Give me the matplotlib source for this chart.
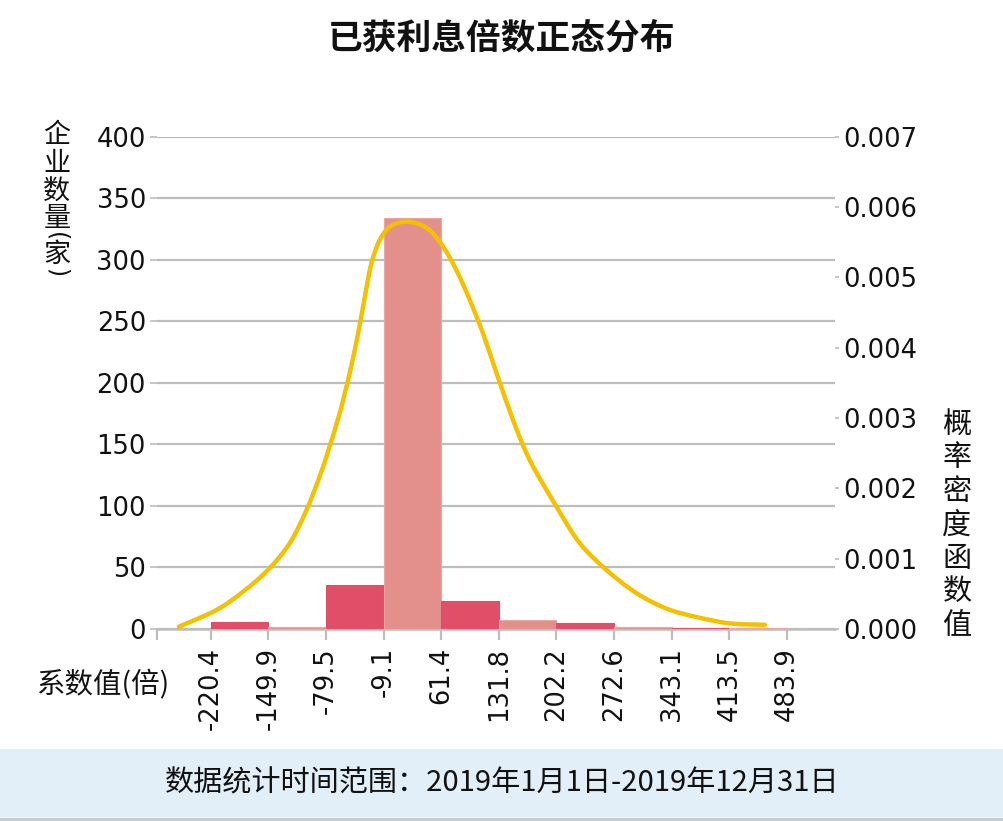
import matplotlib
matplotlib.use("Agg")
import matplotlib.pyplot as plt
from matplotlib.patches import Rectangle, PathPatch
from matplotlib.lines import Line2D
from matplotlib.path import Path

# ---------------- data ----------------
bin_edges = [-220.4, -149.9, -79.5, -9.1, 61.4, 131.8, 202.2, 272.6, 343.1, 413.5, 483.9]
tick_labels = ["-220.4", "-149.9", "-79.5", "-9.1", "61.4", "131.8", "202.2",
               "272.6", "343.1", "413.5", "483.9"]
counts = [6, 2, 36, 334, 23, 7, 5, 2, 1, 1]

curve_x = [-259.2, -213.4, -180.9, -150.4, -123.8, -103.4, -87.2, -75.8, -62.7,
           -50.5, -40.3, -32.1, -24.0, -13.9, -1.6, 14.7, 31.1, 47.3, 63.6, 80.0,
           96.2, 112.5, 128.9, 149.2, 169.6, 202.2, 230.7, 263.3, 300.0, 336.7,
           373.4, 414.1, 457.0]
curve_y = [0.000033, 0.00027, 0.00053, 0.00084, 0.00122, 0.00169, 0.00217, 0.00257,
           0.00307, 0.00364, 0.00420, 0.00472, 0.00520, 0.00553, 0.00572, 0.00579,
           0.00577, 0.00567, 0.00544, 0.00510, 0.00468, 0.00420, 0.00364, 0.00297,
           0.00240, 0.00174, 0.00122, 0.00084, 0.00051, 0.00029, 0.00017, 0.00008,
           0.00006]

left_ticks = [0, 50, 100, 150, 200, 250, 300, 350, 400]
right_ticks = [0.000, 0.001, 0.002, 0.003, 0.004, 0.005, 0.006, 0.007]

title = "已获利息倍数正态分布"
left_label = "企业数量(家)"
right_label = "概率密度函数值"
x_label = "系数值(倍)"
footer = "数据统计时间范围：2019年1月1日-2019年12月31日"

# ---------------- style ----------------
CJK = "Noto Sans CJK SC"
W, H = 1004, 821
dark = "#E04E68"
light = "#E3908C"
gold = "#F5C000"
grid_c = "#BDBDBD"

fig = plt.figure(figsize=(W / 100, H / 100), dpi=100)
fig.patch.set_facecolor("white")

ax_l, ax_r, ax_t, ax_b = 157, 835, 136.7, 629
ax = fig.add_axes([ax_l / W, 1 - ax_b / H, (ax_r - ax_l) / W, (ax_b - ax_t) / H])
ax.set_facecolor("none")

lefts = bin_edges[:-1]
widths = [b - a for a, b in zip(bin_edges[:-1], bin_edges[1:])]
colors = [dark if i % 2 == 0 else light for i in range(len(counts))]
ax.bar(lefts, counts, width=widths, align="edge", color=colors,
       edgecolor=[c if c == dark else "#EBA5A2" for c in colors], linewidth=0.8, zorder=3)

xmin, xmax = -286.0, 542.6
ax.set_xlim(xmin, xmax)
ax.set_ylim(0, 400)
ax.set_yticks(left_ticks)
ax.set_yticklabels([str(t) for t in left_ticks])
ax.set_xticks([xmin] + bin_edges)
ax.set_xticklabels([""] + tick_labels, rotation=90)
ax.yaxis.grid(True, color=grid_c, linewidth=1.6, zorder=0)
ax.set_axisbelow(True)
for s in ["top", "right", "left"]:
    ax.spines[s].set_visible(False)
ax.spines["bottom"].set_color(grid_c)
ax.spines["bottom"].set_linewidth(1.8)
ax.tick_params(axis="x", colors=grid_c, length=8, width=1.6, labelcolor="#111111",
               labelsize=18.5, pad=5)
ax.tick_params(axis="y", colors=grid_c, length=5, width=1.2, labelcolor="#111111",
               labelsize=18.5, pad=3)
for lab in ax.get_xticklabels() + ax.get_yticklabels():
    lab.set_fontfamily("DejaVu Sans")

ax2 = ax.twinx()
ax2.set_ylim(0, 0.007)
ax2.set_yticks(right_ticks)
ax2.set_yticklabels([f"{t:.3f}" for t in right_ticks])
for s in ["top", "right", "left", "bottom"]:
    ax2.spines[s].set_visible(False)
ax2.tick_params(axis="y", colors=grid_c, length=3, width=1.2, labelcolor="#111111",
                labelsize=18.5, pad=3)
for lab in ax2.get_yticklabels():
    lab.set_fontfamily("DejaVu Sans")

# smooth (Catmull-Rom -> cubic Bezier) rendering of the read curve points
pts = list(zip(curve_x, curve_y))
verts = [pts[0]]
codes = [Path.MOVETO]
n = len(pts)
for i in range(n - 1):
    p0 = pts[i - 1] if i > 0 else pts[i]
    p1 = pts[i]
    p2 = pts[i + 1]
    p3 = pts[i + 2] if i + 2 < n else pts[i + 1]
    c1 = (p1[0] + (p2[0] - p0[0]) / 6, p1[1] + (p2[1] - p0[1]) / 6)
    c2 = (p2[0] - (p3[0] - p1[0]) / 6, p2[1] - (p3[1] - p1[1]) / 6)
    verts += [c1, c2, p2]
    codes += [Path.CURVE4, Path.CURVE4, Path.CURVE4]
curve = PathPatch(Path(verts, codes), facecolor="none", edgecolor=gold, linewidth=3.2,
                  capstyle="round", joinstyle="round", zorder=5)
ax2.add_patch(curve)

# ---------------- texts ----------------
fig.text(502 / W, 1 - 38 / H, title, ha="center", va="center",
         fontsize=25, fontweight="bold", family=[CJK, "DejaVu Sans"], color="#111111")

def put(ch, xc, yc, size, rot=0, family=None):
    fig.text(xc / W, 1 - yc / H, ch, ha="center", va="center", rotation=rot,
             rotation_mode="anchor", fontsize=size,
             family=family or [CJK, "DejaVu Sans"], color="#111111")

# left vertical label: 企业数量(家) with parentheses turned for vertical writing
left_pos = [136, 164, 192, 219, 237, 254, 273]
for ch, yc in zip(left_label, left_pos):
    if ch in "()":
        put(ch, 57, yc, 17, rot=-90, family=["DejaVu Sans"])
    else:
        put(ch, 57, yc, 19.5)

for i, ch in enumerate(right_label):
    put(ch, 957, 408 + 33.5 * i + 16.75, 21)

fig.text(103 / W, 1 - 684 / H, x_label, ha="center", va="center",
         fontsize=20.5, family=[CJK, "DejaVu Sans"], color="#111111")

# footer band
fig.patches.append(Rectangle((0, 1 - 817 / H), 1, (817 - 749) / H, transform=fig.transFigure,
                             facecolor="#E2EFF8", edgecolor="none", zorder=0))
fig.lines.append(Line2D([0, 1], [1 - 818.5 / H, 1 - 818.5 / H], transform=fig.transFigure,
                        color="#C5CDD5", linewidth=2.5))
fig.text(502 / W, 1 - 783 / H, footer, ha="center", va="center",
         fontsize=21, family=[CJK, "DejaVu Sans"], color="#111111")

fig.savefig("out.png", dpi=100)
